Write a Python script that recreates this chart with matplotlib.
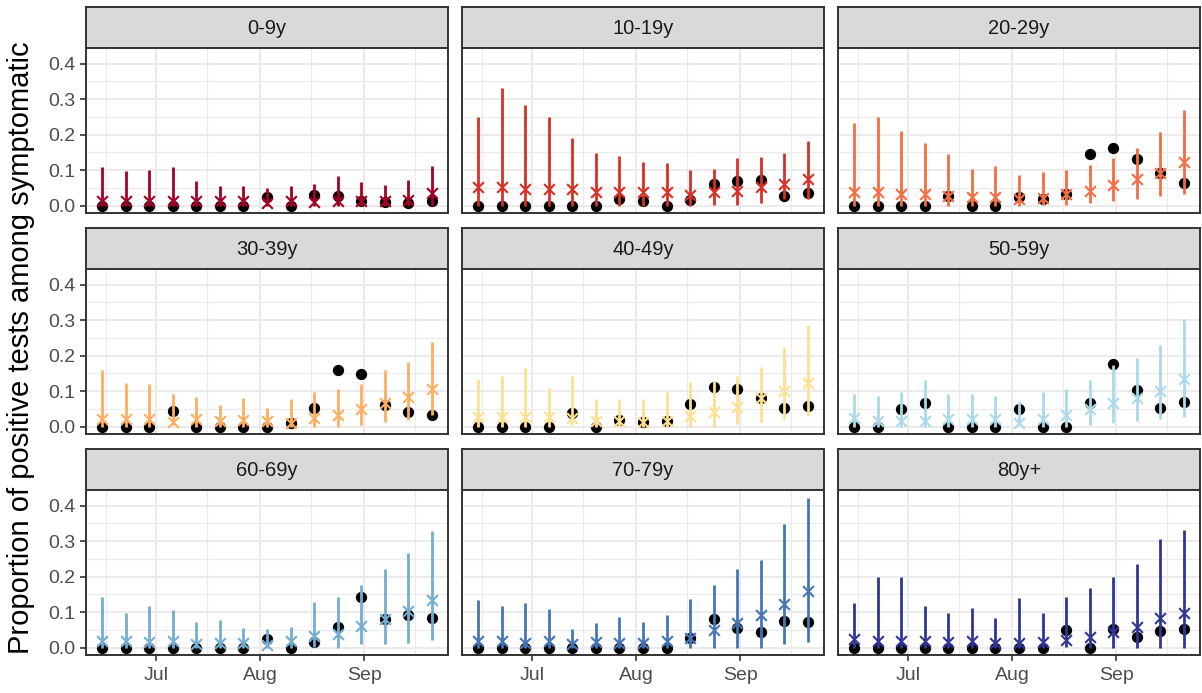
import matplotlib
matplotlib.use("Agg")
import matplotlib.pyplot as plt
import matplotlib.dates as mdates
import numpy as np
from datetime import datetime

plt.rcParams['font.family'] = ['Liberation Sans', 'DejaVu Sans']

# ---------------- data ----------------
week_dates = ["2020-06-15", "2020-06-22", "2020-06-29", "2020-07-06", "2020-07-13",
              "2020-07-20", "2020-07-27", "2020-08-03", "2020-08-10", "2020-08-17",
              "2020-08-24", "2020-08-31", "2020-09-07", "2020-09-14", "2020-09-21"]

age_groups = ["0-9y", "10-19y", "20-29y", "30-39y", "40-49y",
              "50-59y", "60-69y", "70-79y", "80y+"]

group_colors = ["#A50026", "#D73027", "#F46D43", "#FDAE61", "#FEE090",
                "#ABD9E9", "#74ADD1", "#4575B4", "#313695"]

# observed proportions (black dots)
obs_0_9   = [0, 0, 0, 0, 0, 0, 0, 0.025, 0, 0.030, 0.028, 0.014, 0.011, 0.007, 0.014]
obs_10_19 = [0, 0, 0, 0, 0, 0, 0.019, 0.012, 0, 0.016, 0.060, 0.068, 0.072, 0.026, 0.034]
obs_20_29 = [0, 0, 0, 0, 0.026, 0, 0, 0.025, 0.019, 0.033, 0.146, 0.161, 0.130, 0.093, 0.063]
obs_30_39 = [0, 0, 0, 0.044, 0, 0, 0, 0, 0.009, 0.051, 0.160, 0.147, 0.060, 0.041, 0.032]
obs_40_49 = [0, 0, 0, 0, 0.037, 0, 0.018, 0.013, 0.016, 0.063, 0.112, 0.107, 0.081, 0.053, 0.058]
obs_50_59 = [0, 0, 0.049, 0.066, 0, 0, 0, 0.049, 0, 0, 0.067, 0.175, 0.103, 0.051, 0.070]
obs_60_69 = [0, 0, 0, 0, 0, 0, 0, 0.023, 0, 0.016, 0.058, 0.142, 0.081, 0.093, 0.084]
obs_70_79 = [0, 0, 0, 0, 0, 0, 0, 0, 0, 0.027, 0.080, 0.056, 0.044, 0.074, 0.072]
obs_80p   = [0, 0, 0, 0, 0, 0, 0, 0, 0, 0.049, 0, 0.051, 0.030, 0.046, 0.051]

# model estimates (crosses)
est_0_9   = [0.012, 0.012, 0.012, 0.012, 0.012, 0.012, 0.012, 0.007, 0.012, 0.009, 0.014, 0.014, 0.014, 0.016, 0.035]
est_10_19 = [0.051, 0.051, 0.048, 0.047, 0.047, 0.039, 0.037, 0.037, 0.037, 0.031, 0.037, 0.042, 0.051, 0.062, 0.074]
est_20_29 = [0.039, 0.039, 0.033, 0.033, 0.028, 0.023, 0.025, 0.019, 0.020, 0.033, 0.042, 0.058, 0.074, 0.093, 0.124]
est_30_39 = [0.021, 0.021, 0.021, 0.014, 0.021, 0.016, 0.018, 0.016, 0.011, 0.025, 0.032, 0.049, 0.067, 0.083, 0.105]
est_40_49 = [0.027, 0.027, 0.027, 0.027, 0.025, 0.016, 0.016, 0.014, 0.016, 0.030, 0.042, 0.055, 0.081, 0.100, 0.124]
est_50_59 = [0.023, 0.016, 0.016, 0.016, 0.021, 0.021, 0.021, 0.011, 0.021, 0.033, 0.049, 0.066, 0.081, 0.100, 0.135]
est_60_69 = [0.018, 0.018, 0.016, 0.018, 0.011, 0.014, 0.014, 0.008, 0.018, 0.032, 0.039, 0.060, 0.081, 0.102, 0.135]
est_70_79 = [0.018, 0.018, 0.014, 0.018, 0.011, 0.016, 0.014, 0.014, 0.018, 0.027, 0.049, 0.070, 0.091, 0.122, 0.159]
est_80p   = [0.025, 0.018, 0.018, 0.018, 0.016, 0.018, 0.014, 0.014, 0.016, 0.021, 0.030, 0.044, 0.058, 0.083, 0.097]

# lower bounds of intervals
lo_0_9   = [0, 0, 0, 0, 0, 0, 0, 0, 0, 0, 0, 0, 0, 0, 0]
lo_10_19 = [0, 0, 0, 0, 0, 0, 0, 0, 0, 0, 0.002, 0.002, 0.007, 0.019, 0.019]
lo_20_29 = [0, 0, 0, 0, 0, 0, 0, 0, 0.002, 0.002, 0.007, 0.012, 0.019, 0.026, 0.033]
lo_30_39 = [0, 0, 0, 0.004, 0, 0, 0, 0, 0, 0, 0, 0.004, 0.014, 0.018, 0.032]
lo_40_49 = [0, 0, 0, 0, 0.004, 0, 0, 0, 0, 0, 0, 0.007, 0.014, 0.021, 0.030]
lo_50_59 = [0, 0, 0, 0, 0, 0, 0, 0.004, 0, 0, 0.004, 0.009, 0.016, 0.021, 0.027]
lo_60_69 = [0, 0, 0, 0, 0, 0, 0, 0, 0, 0.002, 0, 0.009, 0.009, 0.014, 0.021]
lo_70_79 = [0, 0, 0, 0, 0, 0, 0, 0, 0, 0, 0, 0, 0, 0.011, 0.016]
lo_80p   = [0, 0, 0, 0, 0, 0, 0, 0, 0, 0.002, 0, 0, 0, 0, 0]

# upper bounds of intervals
hi_0_9   = [0.110, 0.098, 0.100, 0.110, 0.069, 0.055, 0.056, 0.049, 0.056, 0.060, 0.082, 0.067, 0.058, 0.072, 0.112]
hi_10_19 = [0.249, 0.332, 0.284, 0.249, 0.191, 0.147, 0.141, 0.124, 0.119, 0.099, 0.104, 0.133, 0.138, 0.149, 0.183]
hi_20_29 = [0.234, 0.249, 0.210, 0.175, 0.146, 0.104, 0.112, 0.087, 0.094, 0.100, 0.113, 0.135, 0.163, 0.207, 0.270]
hi_30_39 = [0.158, 0.124, 0.119, 0.091, 0.083, 0.061, 0.081, 0.051, 0.077, 0.096, 0.105, 0.121, 0.158, 0.183, 0.239]
hi_40_49 = [0.133, 0.142, 0.166, 0.110, 0.142, 0.077, 0.077, 0.077, 0.096, 0.126, 0.128, 0.142, 0.168, 0.224, 0.287]
hi_50_59 = [0.093, 0.086, 0.096, 0.131, 0.091, 0.091, 0.086, 0.069, 0.096, 0.107, 0.130, 0.173, 0.194, 0.231, 0.304]
hi_60_69 = [0.142, 0.096, 0.117, 0.105, 0.072, 0.079, 0.056, 0.053, 0.058, 0.128, 0.142, 0.177, 0.222, 0.267, 0.328]
hi_70_79 = [0.133, 0.117, 0.125, 0.110, 0.053, 0.070, 0.086, 0.072, 0.093, 0.136, 0.177, 0.222, 0.247, 0.348, 0.421]
hi_80p   = [0.125, 0.200, 0.200, 0.117, 0.096, 0.111, 0.083, 0.139, 0.096, 0.142, 0.168, 0.200, 0.236, 0.306, 0.331]

observed = [obs_0_9, obs_10_19, obs_20_29, obs_30_39, obs_40_49, obs_50_59, obs_60_69, obs_70_79, obs_80p]
estimate = [est_0_9, est_10_19, est_20_29, est_30_39, est_40_49, est_50_59, est_60_69, est_70_79, est_80p]
lower = [lo_0_9, lo_10_19, lo_20_29, lo_30_39, lo_40_49, lo_50_59, lo_60_69, lo_70_79, lo_80p]
upper = [hi_0_9, hi_10_19, hi_20_29, hi_30_39, hi_40_49, hi_50_59, hi_60_69, hi_70_79, hi_80p]

y_ticks = [0.0, 0.1, 0.2, 0.3, 0.4]
y_tick_labels = ["0.0", "0.1", "0.2", "0.3", "0.4"]
x_tick_dates = ["2020-07-01", "2020-08-01", "2020-09-01"]
x_tick_labels = ["Jul", "Aug", "Sep"]
x_minor_dates = ["2020-06-16", "2020-07-16", "2020-08-16", "2020-09-16"]
y_label = "Proportion of positive tests among symptomatic"

# ---------------- layout ----------------
W, H = 1202, 693
fig = plt.figure(figsize=(W / 100, H / 100), dpi=100)
fig.patch.set_facecolor("white")

col_left = [86, 462, 838]
panel_w = 362
strip_top = [7, 228, 449]
strip_h = 41
panel_h = 165

dates = mdates.date2num([datetime.strptime(d, "%Y-%m-%d") for d in week_dates])
xt = mdates.date2num([datetime.strptime(d, "%Y-%m-%d") for d in x_tick_dates])
xm = mdates.date2num([datetime.strptime(d, "%Y-%m-%d") for d in x_minor_dates])
span = dates.max() - dates.min()
xlim = (dates.min() - 0.05 * span, dates.max() + 0.05 * span)
ylim = (-0.021, 0.444)

border = "#333333"
grid_col = "#EBEBEB"

def fx(px):
    return px / W

def fy(py):
    return 1 - py / H

for i, grp in enumerate(age_groups):
    r, c = divmod(i, 3)
    left = col_left[c]
    st = strip_top[r]
    # strip
    sax = fig.add_axes([fx(left), fy(st + strip_h), panel_w / W, strip_h / H])
    sax.set_facecolor("#D9D9D9")
    sax.set_xticks([]); sax.set_yticks([])
    for s in sax.spines.values():
        s.set_color(border); s.set_linewidth(1.4)
    sax.text(0.5, 0.47, grp, ha="center", va="center", fontsize=14.5,
             color="#1A1A1A", transform=sax.transAxes)

    # panel
    pt = st + strip_h
    ax = fig.add_axes([fx(left), fy(pt + panel_h), panel_w / W, panel_h / H])
    ax.set_facecolor("white")
    ax.set_xlim(*xlim)
    ax.set_ylim(*ylim)
    ax.set_xticks(xt)
    ax.set_xticks(xm, minor=True)
    ax.set_yticks(y_ticks)
    ax.set_yticks([0.05, 0.15, 0.25, 0.35], minor=True)
    ax.grid(which="major", color=grid_col, linewidth=1.4, zorder=0)
    ax.grid(which="minor", color=grid_col, linewidth=0.8, zorder=0)
    ax.set_axisbelow(True)
    for s in ax.spines.values():
        s.set_color(border); s.set_linewidth(1.4); s.set_zorder(5)
    ax.tick_params(which="minor", length=0)
    ax.tick_params(which="major", length=4.5, width=1.2, color=border,
                   labelsize=14, labelcolor="#4D4D4D", pad=3)
    if c == 0:
        ax.set_yticklabels(y_tick_labels)
    else:
        ax.tick_params(axis="y", length=0, labelleft=False)
    if r == 2:
        ax.set_xticklabels(x_tick_labels)
        ax.tick_params(axis="x", pad=4)
    else:
        ax.tick_params(axis="x", length=0, labelbottom=False)

    col = group_colors[i]
    ax.scatter(dates, observed[i], s=66, color="black", zorder=3, linewidths=0)
    ax.vlines(dates, lower[i], upper[i], color=col, linewidth=2.0, zorder=4)
    ax.scatter(dates, estimate[i], s=60, marker="x", color=col, linewidths=1.5, zorder=4)

fig.text(fx(21), fy(348), y_label, rotation=90, ha="center", va="center",
         fontsize=21, color="black")

fig.savefig("out.png", dpi=100, facecolor="white")
